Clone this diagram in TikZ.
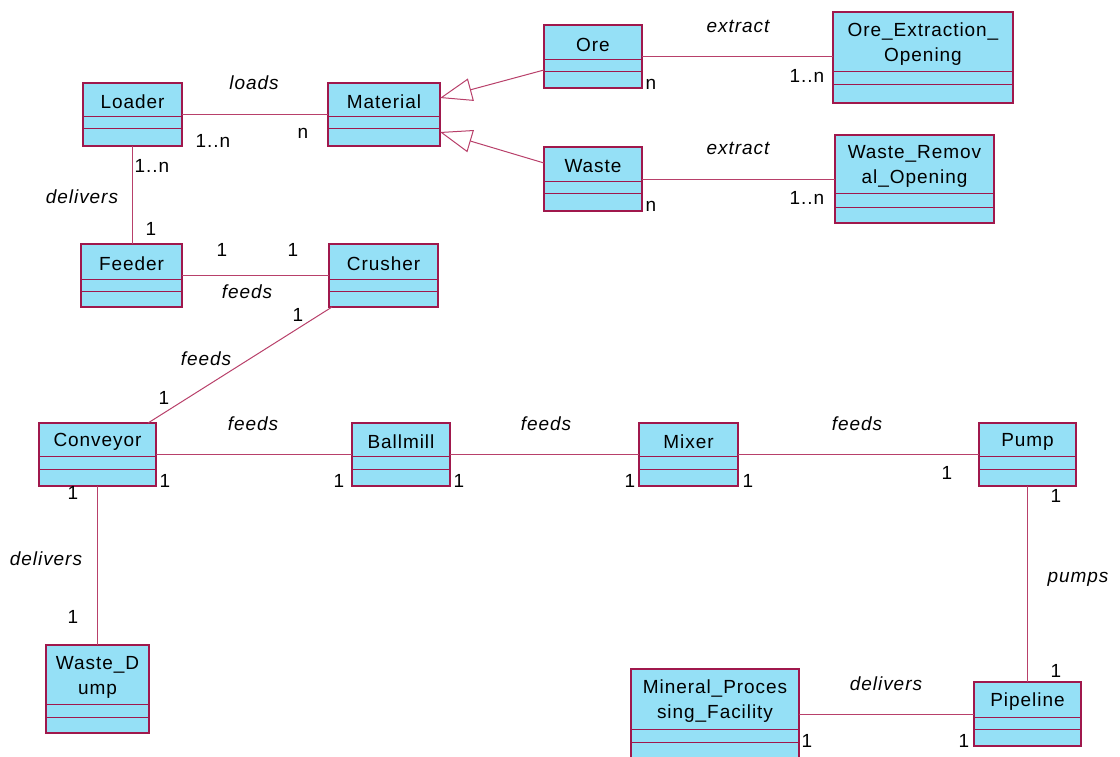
\documentclass[tikz,border=0pt]{standalone}
\usepackage{fontspec}
\setmainfont[LetterSpace=5]{Liberation Sans}
\usetikzlibrary{arrows.meta,calc,fit}

\definecolor{classfill}{HTML}{95E0F6}
\definecolor{classedge}{HTML}{A0184C}
\definecolor{assocline}{HTML}{B8406A}

\tikzset{
  classbox/.style={draw=classedge, fill=classfill, line width=1.3pt, inner sep=0pt, outer sep=0pt},
  divider/.style={draw=classedge, line width=1pt},
  classname/.style={font=\fontsize{19}{25}\selectfont, align=center, inner sep=0pt, text=black},
  assoc/.style={draw=assocline, line width=1pt},
  generalize/.style={assoc, -{Triangle[open, length=32pt, width=23pt]}},
  role/.style={font=\fontsize{19}{24}\selectfont\itshape, inner sep=0pt},
  mult/.style={font=\fontsize{19}{22}\selectfont, inner sep=0pt},
}

% #1 name, #2 left, #3 top, #4 right, #5 bottom, #6 first divider, #7 second divider, #8 class name
\newcommand{\umlclass}[8]{%
  \node[classbox, fit={(#2,#3) (#4,#5)}] (#1) {};
  \draw[divider] (#2,#6) -- (#4,#6);
  \draw[divider] (#2,#7) -- (#4,#7);
  \node[classname] (#1-title) at ({(#2+#4)/2},{(#3+#6)/2+2.5}) {#8};
}

\begin{document}
\begin{tikzpicture}[x=1pt, y=-1pt]
\useasboundingbox (0,0) rectangle (1120,756);
\clip (0,0) rectangle (1120,756);

% classes
\umlclass{loader}{83}{83}{182}{146}{116}{128}{Loader}
\umlclass{material}{328}{83}{440}{146}{116}{128}{Material}
\umlclass{ore}{544}{25}{642}{88}{59}{71}{Ore}
\umlclass{waste}{544}{147}{642}{211}{181}{193}{Waste}
\umlclass{oreext}{833}{12}{1013}{103}{71}{84}{Ore\_Extraction\_\\Opening}
\umlclass{wasterem}{835}{135}{994}{223}{193}{207}{Waste\_Remov\\al\_Opening}
\umlclass{feeder}{81}{244}{182}{307}{279}{291}{Feeder}
\umlclass{crusher}{329}{244}{438}{307}{279}{291}{Crusher}
\umlclass{conveyor}{39}{423}{156}{486}{456}{469}{Conveyor}
\umlclass{ballmill}{352}{423}{450}{486}{456}{469}{Ballmill}
\umlclass{mixer}{639}{423}{738}{486}{456}{469}{Mixer}
\umlclass{pump}{979}{423}{1076}{486}{456}{469}{Pump}
\umlclass{wastedump}{46}{645}{149}{733}{704}{717}{Waste\_D\\ump}
\umlclass{mineral}{631}{669}{799}{770}{729}{742}{Mineral\_Proces\\sing\_Facility}
\umlclass{pipeline}{974}{682}{1081}{746}{717}{729}{Pipeline}

% generalizations
\draw[generalize] ($(ore.south west)+(0,-18)$) -- ($(material.north east)+(0,15)$);
\draw[generalize] ($(waste.north west)+(0,16)$) -- ($(material.north east)+(0,49)$);

% associations
\draw[assoc] (loader) -- (material);
\draw[assoc] (loader.south) -- (loader.south |- feeder.north);
\draw[assoc] (feeder) -- (crusher);
\draw[assoc] ($(crusher.south west)+(3,0)$) -- ($(conveyor.north east)+(-8,0)$);
\draw[assoc] (conveyor) -- (ballmill);
\draw[assoc] (ballmill) -- (mixer);
\draw[assoc] (mixer) -- (pump);
\draw[assoc] (conveyor.south) -- (conveyor.south |- wastedump.north);
\draw[assoc] (pump.south) -- (pump.south |- pipeline.north);
\draw[assoc] (pipeline.west) -- (pipeline.west -| mineral.east);
\draw[assoc] (ore.east) -- (ore.east -| oreext.west);
\draw[assoc] (waste.east) -- (waste.east -| wasterem.west);

% role names
\node[role] (r-loads) at (254,83) {loads};
\node[role] (r-deliv1) at (82,197) {delivers};
\node[role] (r-feeds1) at (247,292) {feeds};
\node[role] (r-feeds2) at (206,359) {feeds};
\node[role] (r-feeds3) at (253,424) {feeds};
\node[role] (r-feeds4) at (546,424) {feeds};
\node[role] (r-feeds5) at (857,424) {feeds};
\node[role] (r-pumps) at (1078,579) {pumps};
\node[role] (r-deliv2) at (886,684) {delivers};
\node[role] (r-deliv3) at (46,559) {delivers};
\node[role] (r-extr1) at (738,26) {extract};
\node[role] (r-extr2) at (738,148) {extract};

% multiplicities
\node[mult] (m-1) at (213,141) {1..n};
\node[mult] (m-2) at (303,133) {n};
\node[mult] (m-3) at (152,166) {1..n};
\node[mult] (m-4) at (151,229) {1};
\node[mult] (m-5) at (222,250) {1};
\node[mult] (m-6) at (293,250) {1};
\node[mult] (m-7) at (298,315) {1};
\node[mult] (m-8) at (164,398) {1};
\node[mult] (m-9) at (165,481) {1};
\node[mult] (m-10) at (339,481) {1};
\node[mult] (m-11) at (459,481) {1};
\node[mult] (m-12) at (630,481) {1};
\node[mult] (m-13) at (748,481) {1};
\node[mult] (m-14) at (947,473) {1};
\node[mult] (m-15) at (1056,496) {1};
\node[mult] (m-16) at (1056,671) {1};
\node[mult] (m-17) at (807,741) {1};
\node[mult] (m-18) at (964,741) {1};
\node[mult] (m-19) at (73,493) {1};
\node[mult] (m-20) at (73,617) {1};
\node[mult] (m-21) at (651,84) {n};
\node[mult] (m-22) at (651,206) {n};
\node[mult] (m-23) at (807,76) {1..n};
\node[mult] (m-24) at (807,198) {1..n};
\end{tikzpicture}
\end{document}
